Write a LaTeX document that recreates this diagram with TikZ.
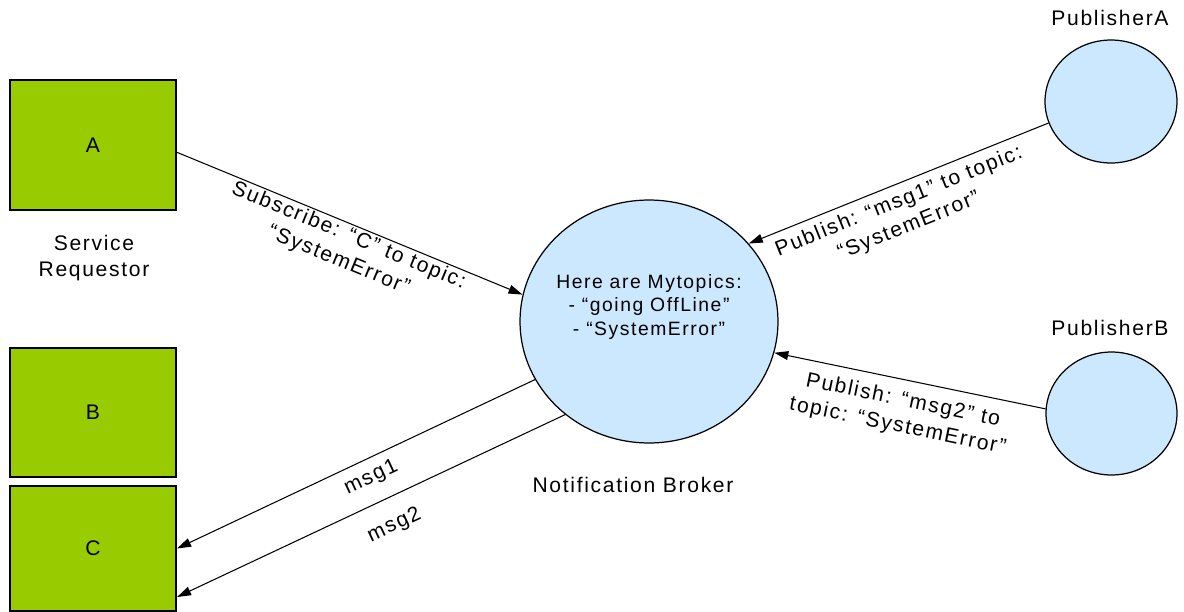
\documentclass[tikz,border=0pt]{standalone}
\usepackage{fontspec}
\setmainfont{Liberation Sans}[LetterSpace=8]
\usepackage{tikz}
\usetikzlibrary{shapes,arrows,positioning,calc,arrows.meta}

\definecolor{boxgreen}{RGB}{153,204,0}
\definecolor{nodeblue}{RGB}{204,232,255}

\tikzset{
    client/.style={draw, line width=1.2pt, fill=boxgreen, minimum width=3.32cm, inner sep=0pt, font=\fontsize{12}{14}\selectfont},
    broker/.style={ellipse, draw, line width=0.7pt, fill=nodeblue, inner sep=0pt},
    msg/.style={line width=0.6pt, -{Triangle[length=8pt,width=5pt]}},
    lbl/.style={font=\fontsize{12}{15}\selectfont, align=center, inner sep=1pt}
}

\begin{document}
\begin{tikzpicture}[x=0.02cm, y=-0.02cm]
    \useasboundingbox (0,0) rectangle (1184,612);
    % clients
    \node[client, minimum height=2.6cm] (A) at (93,145) {A};
    \node[client, minimum height=2.58cm] (B) at (93,412.5) {B};
    \node[client, minimum height=2.5cm] (C) at (93,548.5) {C};
    \node[lbl] (req) at (94,258) {Service\\Requestor};
    % broker and publishers
    \node[broker, minimum width=5.16cm, minimum height=4.86cm] (nb) at (649,321.5) {};
    \node[lbl, font=\fontsize{11}{13.5}\selectfont] (topics) at (649,307) {Here are Mytopics:\\- ``going OffLine''\\- ``SystemError''};
    \node[lbl] (nblbl) at (633,485) {Notification Broker};
    \node[broker, minimum width=2.64cm, minimum height=2.46cm] (pubA) at (1111,101.5) {};
    \node[broker, minimum width=2.62cm, minimum height=2.46cm] (pubB) at (1111.5,413.5) {};
    \node[lbl] (pubAlbl) at (1110,18) {PublisherA};
    \node[lbl] (pubBlbl) at (1110,328) {PublisherB};
    % messages
    \draw[msg] (A.-5) -- (nb.168) node[lbl, sloped, below, pos=0.51] {Subscribe: ``C'' to topic:\\``SystemError''};
    \draw[msg] (pubA.199) -- (nb.38) node[lbl, sloped, below=3pt, pos=0.52] {Publish: ``msg1'' to topic:\\``SystemError''};
    \draw[msg] (pubB.176) -- (nb.-14) node[lbl, sloped, below=5pt, pos=0.51] {Publish: ``msg2'' to\\topic: ``SystemError''};
    \draw[msg] (nb.207) -- (C.east) node[lbl, sloped, below=4pt, pos=0.48] {msg1};
    \draw[msg] (nb.228) -- (C.-30) node[lbl, sloped, below=9pt, pos=0.47] {msg2};
\end{tikzpicture}
\end{document}
